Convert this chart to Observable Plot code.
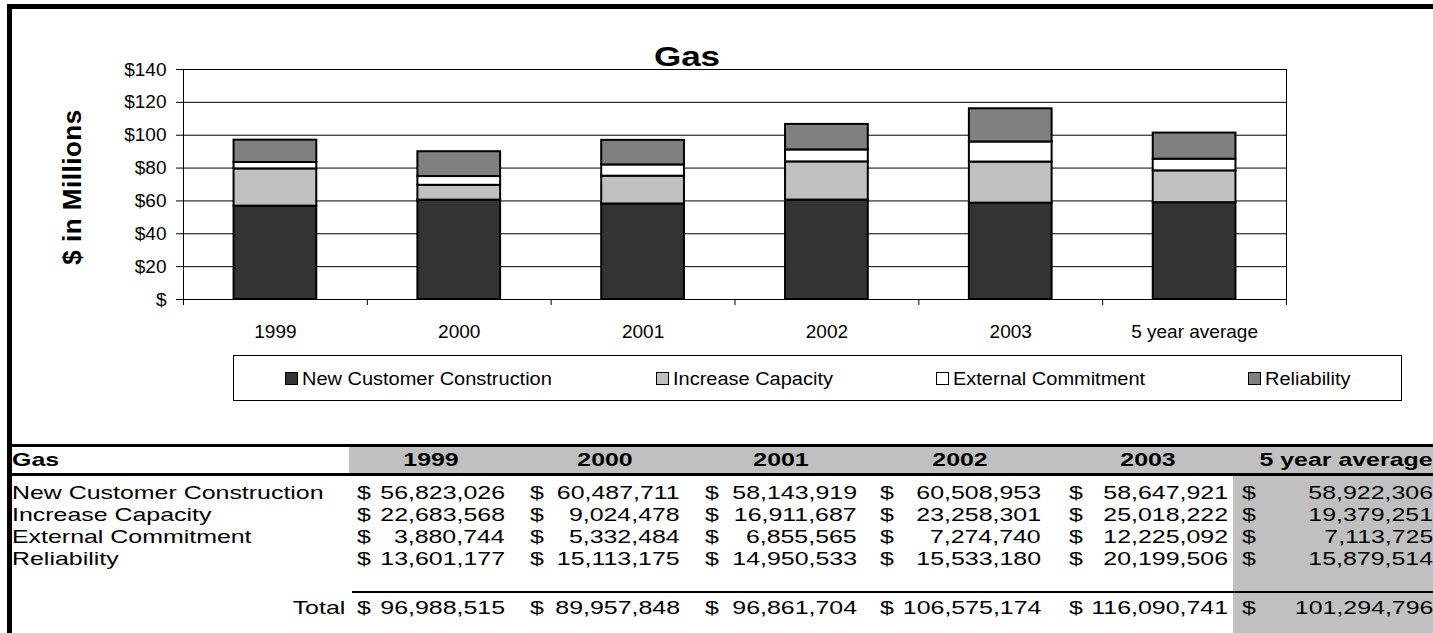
<!DOCTYPE html>
<html><head><meta charset="utf-8">
<script src="https://cdn.jsdelivr.net/npm/d3@7"></script>
<script src="https://cdn.jsdelivr.net/npm/@observablehq/plot@0.6"></script>
<style>
html,body{margin:0;padding:0;background:#fff;width:1433px;height:633px;overflow:hidden;font-family:"Liberation Sans",Arial,sans-serif;}
#page{position:relative;width:1433px;height:633px;overflow:hidden;}
#page svg{position:absolute;left:0;top:0;overflow:visible;}
.blk{position:absolute;}
</style></head>
<body><div id="page"></div>
<script>
// ---- data ----
const categories = ["1999", "2000", "2001", "2002", "2003", "5 year average"];
const seriesNames = ["New Customer Construction", "Increase Capacity", "External Commitment", "Reliability"];
const newCustomerConstruction = [56823026, 60487711, 58143919, 60508953, 58647921, 58922306];
const increaseCapacity = [22683568, 9024478, 16911687, 23258301, 25018222, 19379251];
const externalCommitment = [3880744, 5332484, 6855565, 7274740, 12225092, 7113725];
const reliability = [13601177, 15113175, 14950533, 15533180, 20199506, 15879514];
const totals = [96988515, 89957848, 96861704, 106575174, 116090741, 101294796];
const seriesColors = ["#333333", "#c0c0c0", "#ffffff", "#808080"];
const yTicks = [0, 20, 40, 60, 80, 100, 120, 140];
const chartTitle = "Gas";
const yLabel = "$ in Millions";
const tableTitle = "Gas";
const totalLabel = "Total";

const seriesValues = [newCustomerConstruction, increaseCapacity, externalCommitment, reliability];
const W = 1433;
const page = document.getElementById("page");

function box(x, y, w, h, bg, extra = "") {
  const d = document.createElement("div");
  d.className = "blk";
  d.style.cssText += `left:${x}px;top:${y}px;width:${w}px;height:${h}px;background:${bg};${extra}`;
  page.appendChild(d);
  return d;
}
function txt(str, o) {
  const {x, y, size, weight = "normal", anchor = "start", sx = 1, rotate = 0, ls = 0} = o;
  const d = document.createElement("div");
  d.textContent = str;
  d.style.cssText = `position:absolute;white-space:nowrap;line-height:1;font-size:${size}px;font-weight:${weight};color:#000;top:${y}px;letter-spacing:${ls}px;`;
  if (rotate) {
    d.style.left = x + "px";
    d.style.transformOrigin = "50% 50%";
    d.style.transform = `translate(-50%,-50%) rotate(${rotate}deg)`;
  } else if (anchor === "start") {
    d.style.left = x + "px"; d.style.transformOrigin = "0 50%";
    d.style.transform = `translateY(-50%) scaleX(${sx})`;
  } else if (anchor === "end") {
    d.style.right = (W - x) + "px"; d.style.transformOrigin = "100% 50%";
    d.style.transform = `translateY(-50%) scaleX(${sx})`;
  } else {
    d.style.left = x + "px"; d.style.transformOrigin = "50% 50%";
    d.style.transform = `translate(-50%,-50%) scaleX(${sx})`;
  }
  page.appendChild(d);
  return d;
}

// ---- chart ----
const barFrac = 0.45;
const rows = [];
categories.forEach((c, i) => {
  let base = 0;
  seriesValues.forEach((vals, j) => {
    const v = vals[i] / 1e6;
    rows.push({cat: c, series: seriesNames[j], x1: i + (1 - barFrac) / 2, x2: i + (1 + barFrac) / 2, y1: base, y2: base + v});
    base += v;
  });
});

const chart = Plot.plot({
  width: 1433, height: 345,
  marginLeft: 183, marginRight: 147, marginTop: 69, marginBottom: 46,
  x: {type: "linear", domain: [0, categories.length]},
  y: {domain: [0, 140]},
  color: {domain: seriesNames, range: seriesColors},
  style: {fontFamily: '"Liberation Sans", Arial, sans-serif', fontSize: "19px", color: "#000", background: "transparent"},
  marks: [
    Plot.ruleY(yTicks, {stroke: "#000", strokeWidth: 1}),
    Plot.ruleX([0, categories.length], {stroke: "#000", strokeWidth: 1}),
    Plot.rect(rows, {x1: "x1", x2: "x2", y1: "y1", y2: "y2", fill: "series", stroke: "#000", strokeWidth: 2}),
    Plot.axisY({ticks: yTicks, tickSize: 7, tickPadding: 10, label: null, stroke: "#000", strokeOpacity: 1,
      tickFormat: d => d === 0 ? "$" : "$" + d}),
    Plot.axisX({ticks: d3.range(categories.length + 1), tickSize: 6, label: null, stroke: "#000", strokeOpacity: 1, tickFormat: () => ""}),
    Plot.axisX({ticks: categories.map((c, i) => i + 0.5), tickSize: 0, tickPadding: 25, label: null,
      tickFormat: t => categories[Math.floor(t)]})
  ]
});
page.appendChild(chart);

txt(chartTitle, {x: 687, y: 57, size: 28, weight: "bold", anchor: "middle", sx: 1.25});
txt(yLabel, {x: 72, y: 187, size: 26, weight: "bold", rotate: -90, ls: 0.5});

// legend
box(233, 355, 1402 - 233, 46, "#fff", "border:1px solid #000;box-sizing:border-box;");
const legendX = [285, 656, 936, 1248];
seriesNames.forEach((s, j) => {
  box(legendX[j], 372, 13, 13, seriesColors[j], "border:1px solid #000;box-sizing:border-box;");
  txt(s, {x: legendX[j] + 17, y: 379, size: 18, sx: 1.11});
});

// frame
box(7, 4, W - 7, 5, "#000");
box(7, 4, 5, 629, "#000");
box(7, 444, W - 7, 3, "#000");

// ---- table ----
const fmt = d3.format(",");
const tsize = 18.6, tsx = 1.34;
const colDollar = [357, 530, 705, 880, 1069, 1242];
const colRight = [505, 680, 857, 1041, 1228, 1433];
const colHeadX = [431, 605, 781, 960, 1148, 1346];
box(349, 447, W - 349, 26, "#c0c0c0");
box(1233, 476, W - 1233, 633 - 476, "#c0c0c0");
box(7, 473, W - 7, 3, "#000");
box(352, 591, W - 352, 2, "#000");
txt(tableTitle, {x: 12, y: 460, size: tsize, weight: "bold", sx: tsx});
categories.forEach((c, i) => {
  txt(c, {x: colHeadX[i], y: 460, size: tsize, weight: "bold", anchor: "middle", sx: tsx});
});
const rowY = [493, 515, 537, 559];
seriesNames.forEach((s, j) => {
  txt(s, {x: 12, y: rowY[j], size: tsize, sx: tsx});
  seriesValues[j].forEach((v, i) => {
    txt("$", {x: colDollar[i], y: rowY[j], size: tsize, sx: tsx});
    txt(fmt(v), {x: colRight[i], y: rowY[j], size: tsize, anchor: "end", sx: tsx});
  });
});
txt(totalLabel, {x: 345, y: 608, size: tsize, anchor: "end", sx: tsx});
totals.forEach((v, i) => {
  txt("$", {x: colDollar[i], y: 608, size: tsize, sx: tsx});
  txt(fmt(v), {x: colRight[i], y: 608, size: tsize, anchor: "end", sx: tsx});
});
</script>
</body></html>
